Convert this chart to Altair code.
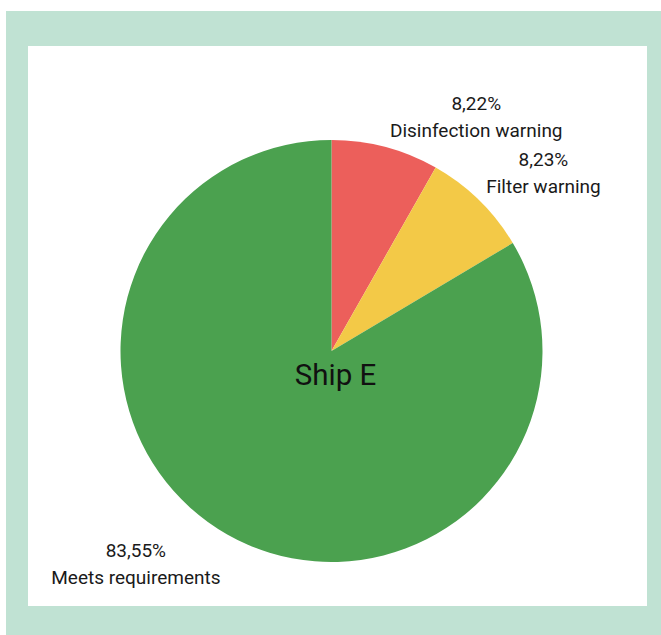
import altair as alt
import pandas as pd

# Share of water-quality checks for Ship E
categories = ["Disinfection warning", "Filter warning", "Meets requirements"]
shares = [8.22, 8.23, 83.55]
pct_labels = ["8,22%", "8,23%", "83,55%"]
colors = ["#ec5f5b", "#f3c947", "#4ba14f"]
ship = "Ship E"

df = pd.DataFrame({
    "category": categories,
    "share": shares,
    "order": list(range(len(categories))),
    "label": [f"{p}\n{c}" for p, c in zip(pct_labels, categories)],
})

W, H = 661, 635
CX, CY, R = 331.5, 351, 211
FONT = "Roboto"

frame = alt.Chart(pd.DataFrame({"k": [0]})).mark_rect(color="#c0e2d3").encode(
    x=alt.value(6), x2=alt.value(W), y=alt.value(11), y2=alt.value(H)
)
panel = alt.Chart(pd.DataFrame({"k": [0]})).mark_rect(color="white").encode(
    x=alt.value(28), x2=alt.value(647), y=alt.value(46), y2=alt.value(606)
)

theta = alt.Theta("share:Q", stack=True, scale=alt.Scale(domain=[0, 100]))
order = alt.Order("order:O")

pie = alt.Chart(df).mark_arc(outerRadius=R, stroke=None).encode(
    theta=theta,
    order=order,
    color=alt.Color("category:N", scale=alt.Scale(domain=categories, range=colors), legend=None),
    x=alt.value(CX),
    y=alt.value(CY),
)


def slice_label(cat, dx, dy):
    return alt.Chart(df).mark_text(
        font=FONT, fontSize=19, color="#1a1a1a", lineBreak="\n", lineHeight=27,
        align="center", baseline="middle", radius=230, dx=dx, dy=dy,
    ).encode(
        theta=theta,
        order=order,
        text=alt.condition(alt.datum.category == cat, alt.Text("label:N"), alt.value("")),
        x=alt.value(CX),
        y=alt.value(CY),
    )


labels = [
    slice_label(categories[0], 86, -25),
    slice_label(categories[1], 51, -27),
    slice_label(categories[2], -82, 0),
]

title = alt.Chart(pd.DataFrame({"t": [ship]})).mark_text(
    font=FONT, fontSize=29.5, color="#111111", align="center", baseline="middle"
).encode(text="t:N", x=alt.value(CX + 4), y=alt.value(CY + 25))

chart = alt.layer(frame, panel, pie, *labels, title).properties(
    width=W, height=H, padding=0, autosize=alt.AutoSizeParams(type="none"),
    background="white",
).configure_view(stroke=None)

chart.save("out.html", embed_options={"renderer": "svg", "actions": False})
